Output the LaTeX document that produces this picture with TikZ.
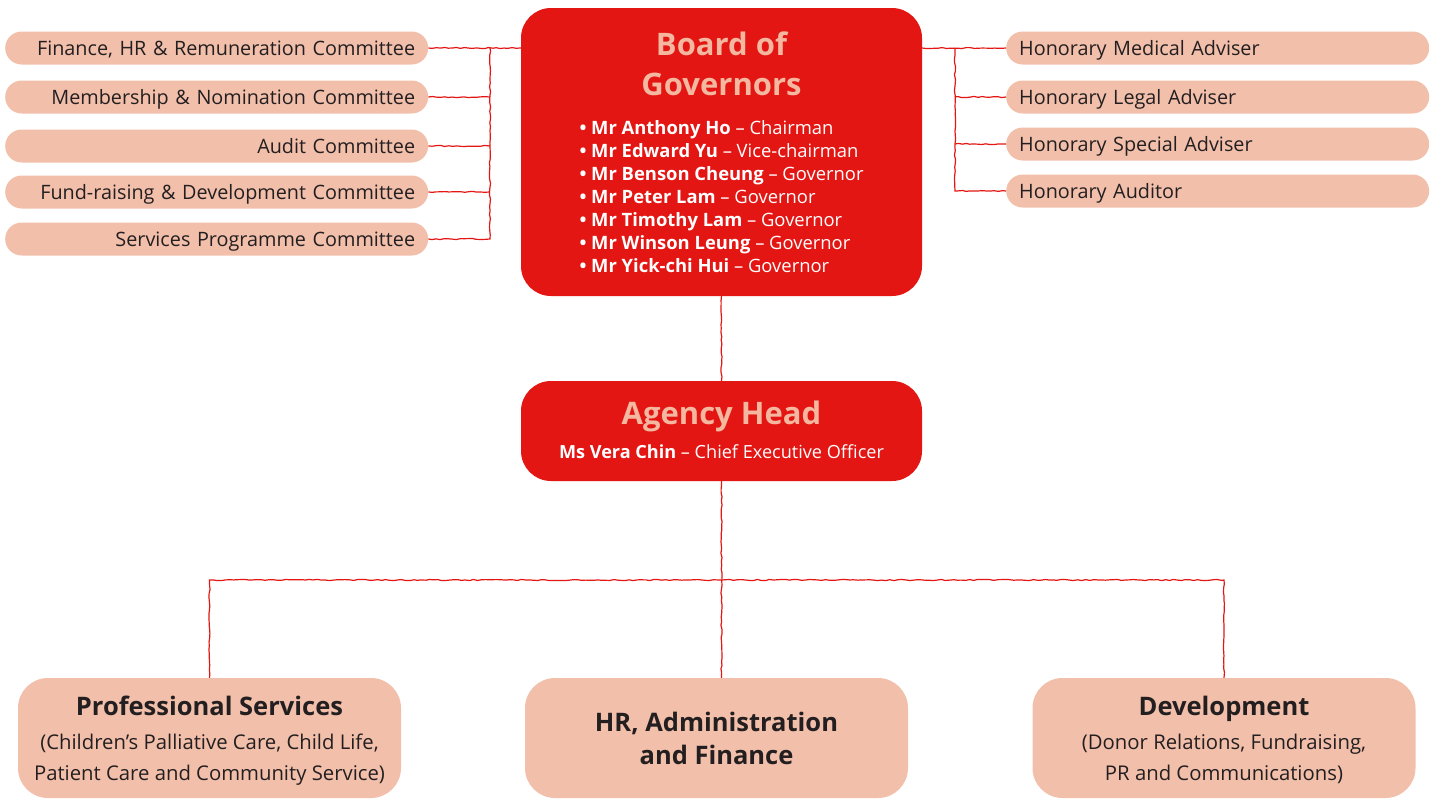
\documentclass[tikz,border=0pt]{standalone}
\usepackage{fontspec}
\setmainfont{Open Sans}
\usepackage{xcolor}
\definecolor{ColRed}{HTML}{E31613}
\definecolor{ColPink}{HTML}{F2BFAB}
\definecolor{ColTitle}{HTML}{F4B8A0}
\definecolor{ColText}{HTML}{231F20}
\usepackage{tikz}
\usetikzlibrary{decorations.pathmorphing}
\tikzstyle{Head}=[rectangle,rounded corners=30pt,fill=ColRed,inner sep=0pt,
minimum width=401pt]
\tikzstyle{Pill}=[rectangle,rounded corners=16.5pt,fill=ColPink,inner xsep=13pt,
inner ysep=0pt,minimum height=33pt,text width=397pt,text=ColText,
text height=16pt,text depth=2pt,font=\fontsize{19.8}{22}\selectfont]
\tikzstyle{Unit}=[rectangle,rounded corners=30pt,fill=ColPink,inner sep=0pt,
minimum width=383pt,minimum height=120pt,align=center,text=ColText]
\tikzstyle{Edge}=[draw=ColRed,line width=1.2pt,
decorate,decoration={random steps,segment length=4pt,amplitude=.6pt}]
\tikzstyle{HeadTitle}=[text=ColTitle,font=\bfseries\fontsize{31}{40}\selectfont,
align=center]

\begin{document}
\begin{tikzpicture}[x=1pt,y=-1pt]
            \useasboundingbox(0,0)rectangle(1438,801);
            % governance
            \node[Head,minimum height=288pt](board)at(721.5,152){};
            \node[HeadTitle](boardtitle)at(721.5,64){Board of\\Governors};
            \node[anchor=west,text=white,align=left,
                font=\fontsize{18.4}{23}\selectfont](members)at(576,197)
                {\textbf{\textbullet\ Mr Anthony Ho} -- Chairman\\
                 \textbf{\textbullet\ Mr Edward Yu} -- Vice-chairman\\
                 \textbf{\textbullet\ Mr Benson Cheung} -- Governor\\
                 \textbf{\textbullet\ Mr Peter Lam} -- Governor\\
                 \textbf{\textbullet\ Mr Timothy Lam} -- Governor\\
                 \textbf{\textbullet\ Mr Winson Leung} -- Governor\\
                 \textbf{\textbullet\ Mr Yick-chi Hui} -- Governor};
            \node[Head,minimum height=100pt](agency)at(721.5,431){};
            \node[HeadTitle](agencytitle)at(721.5,416){Agency Head};
            \node[text=white,font=\fontsize{18.1}{20}\selectfont](ceo)
                at(721.5,452){\textbf{Ms Vera Chin} -- Chief Executive Officer};
            % committees
            \node[Pill,anchor=west,align=right](fin)at(5,48)
                {Finance, HR \& Remuneration Committee};
            \node[Pill,anchor=west,align=right](mem)at(5,97)
                {Membership \& Nomination Committee};
            \node[Pill,anchor=west,align=right](aud)at(5,146)
                {Audit Committee};
            \node[Pill,anchor=west,align=right](fund)at(5,192)
                {Fund-raising \& Development Committee};
            \node[Pill,anchor=west,align=right](serv)at(5,239)
                {Services Programme Committee};
            % advisers
            \node[Pill,anchor=west,align=left](med)at(1006,48)
                {Honorary Medical Adviser};
            \node[Pill,anchor=west,align=left](legal)at(1006,97)
                {Honorary Legal Adviser};
            \node[Pill,anchor=west,align=left](special)at(1006,144)
                {Honorary Special Adviser};
            \node[Pill,anchor=west,align=left](auditor)at(1006,191)
                {Honorary Auditor};
            % departments
            \node[Unit,text depth=0pt,font=\fontsize{20.3}{31}\selectfont](prof)
                at(209.5,738)
                {\bfseries\fontsize{25.5}{30}\selectfont Professional Services\\[3pt]
                (Children’s Palliative Care, Child Life,\\
                Patient Care and Community Service)};
            \node[Unit,font=\bfseries\fontsize{25.5}{33}\selectfont](hr)at(716.5,738)
                {HR, Administration\\and Finance};
            \node[Unit,text depth=0pt,font=\fontsize{20.3}{31}\selectfont](dev)
                at(1224,738)
                {\bfseries\fontsize{25.5}{30}\selectfont Development\\[3pt]
                (Donor Relations, Fundraising,\\
                PR and Communications)};
            % connectors
            \coordinate(lbus)at(490,0);
            \coordinate(rbus)at(955,0);
            \coordinate(split)at(721.5,580);
            \draw[Edge](fin.east)--(board.west|-fin.east);
            \draw[Edge](mem.east)--(lbus|-mem.east);
            \draw[Edge](aud.east)--(lbus|-aud.east);
            \draw[Edge](fund.east)--(lbus|-fund.east);
            \draw[Edge](serv.east)-|(lbus|-fin.east);
            \draw[Edge](board.east|-med.west)--(med.west);
            \draw[Edge](legal.west)--(rbus|-legal.west);
            \draw[Edge](special.west)--(rbus|-special.west);
            \draw[Edge](auditor.west)-|(rbus|-med.west);
            \draw[Edge](board.south)--(agency.north);
            \draw[Edge](agency.south)--(agency.south|-hr.north);
            \draw[Edge](prof.north)|-(split)-|(dev.north);
        \end{tikzpicture}
\end{document}
